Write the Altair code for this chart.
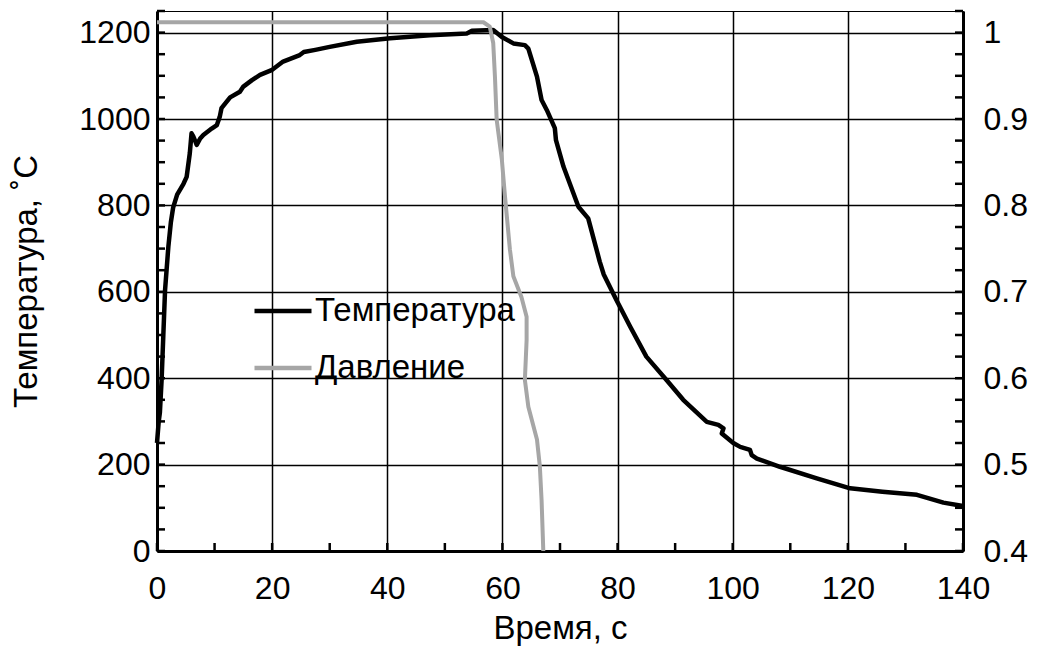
import altair as alt
import pandas as pd

# ---- data ----
time_T = [0, 0.3, 0.5, 0.8, 1.1, 1.4, 1.97, 2.4, 2.8, 3.5, 4.6, 5.15, 5.7, 6.0, 6.3, 6.9, 7.5,
          8.05, 9.5, 10.4, 10.9, 11.2, 12.7, 14.4, 15.0, 16.5, 17.9, 19.9, 21.9, 24.8, 25.5,
          27.5, 30.0, 34.7, 40.5, 47.4, 53.8, 54.7, 58.4, 59.9, 61.9, 63.9, 64.5, 66.0, 66.8,
          67.7, 69.1, 69.3, 70.6, 73.2, 74.9, 76.9, 77.6, 79.8, 82.2, 85.0, 88.5, 91.4, 95.5,
          97.5, 98.4, 98.1, 100.1, 101.3, 103.0, 103.3, 104.2, 108.2, 114.6, 120.4, 126.0,
          132.0, 136.6, 140.0]
temp = [250, 300, 320, 396, 500, 604, 704, 760, 795, 825, 850, 866, 921, 967, 960, 940, 955,
        963, 978, 986, 1005, 1025, 1050, 1063, 1075, 1090, 1102, 1113, 1133, 1148, 1155,
        1160, 1167, 1179, 1187, 1194, 1198, 1204, 1206, 1190, 1175, 1171, 1163, 1098, 1044,
        1021, 979, 951, 890, 797, 770, 670, 640, 581, 519, 450, 396, 350, 299,
        292, 284, 272, 250, 241, 234, 222, 214, 195, 168, 145, 137,
        130, 112, 104]

time_P = [0, 56.0, 56.7, 57.8, 58.4, 58.7, 59.0, 59.9, 60.45, 61.3, 61.9, 63.3, 64.2, 64.2,
          63.9, 64.5, 66.0, 66.5, 66.8, 67.1]
pres = [1.012, 1.012, 1.012, 1.007, 0.988, 0.949, 0.899, 0.853, 0.810, 0.749, 0.718, 0.694,
        0.671, 0.644, 0.598, 0.567, 0.529, 0.498, 0.459, 0.400]

series_names = ["Температура", "Давление"]
series_colors = ["#000000", "#a6a6a6"]

x_ticks = [0, 20, 40, 60, 80, 100, 120, 140]
x_minor = [0, 10, 20, 30, 40, 50, 60, 70, 80, 90, 100, 110, 120, 130, 140]
T_ticks = [0, 200, 400, 600, 800, 1000, 1200]
T_minor = list(range(0, 1251, 50))
P_ticks = [0.4, 0.5, 0.6, 0.7, 0.8, 0.9, 1.0]
P_minor = [round(0.4 + 0.025 * i, 3) for i in range(26)]

FONT = "Liberation Sans"
W, H = 806, 540
LBL = 32
TTL = 33

dfT = pd.DataFrame({"t": time_T, "T": temp, "series": series_names[0],
                    "i": list(range(len(time_T)))})
dfP = pd.DataFrame({"t": time_P, "P": pres, "series": series_names[1],
                    "i": list(range(len(time_P)))})
dfTm = pd.DataFrame({"T": T_minor})
dfPm = pd.DataFrame({"P": P_minor})
dfXm = pd.DataFrame({"t": x_minor})

x_scale = alt.Scale(domain=[0, 140], nice=False, zero=False)
T_scale = alt.Scale(domain=[0, 1250], nice=False)
P_scale = alt.Scale(domain=[0.4, 1.025], nice=False, zero=False)
color_scale = alt.Scale(domain=series_names, range=series_colors)

common_axis = dict(domainColor="black", domainWidth=3, ticks=True, tickSize=0,
                   labelFontSize=LBL, labelFont=FONT, labelColor="black",
                   labelFlush=False, labelOverlap=False,
                   titleFontSize=TTL, titleFont=FONT, titleFontWeight="normal",
                   titleColor="black")

x_axis = alt.Axis(values=x_ticks, grid=True, gridColor="black", gridWidth=1.5,
                  gridOpacity=1, labelPadding=22, format="d", title="Время, с",
                  titlePadding=8, **common_axis)
T_axis = alt.Axis(values=T_ticks, grid=True, gridColor="black", gridWidth=1.5,
                  gridOpacity=1, labelPadding=7, format="d", title="Температура, ˚С",
                  titlePadding=35, **common_axis)
P_axis = alt.Axis(orient="right", values=P_ticks, grid=False, labelPadding=20,
                  format="~g", title=None, **{k: v for k, v in common_axis.items()
                                               if not k.startswith("title")})


def X():
    return alt.X("t:Q", scale=x_scale, axis=x_axis)


legend = alt.Legend(orient="none", legendX=95, legendY=269, symbolType="stroke",
                    symbolSize=3249, symbolStrokeWidth=4.5, labelFontSize=TTL,
                    labelFont=FONT, labelColor="black", labelOffset=1, rowPadding=9,
                    labelLimit=500, title=None, padding=0)
color = alt.Color("series:N", scale=color_scale, legend=legend)

temp_line = alt.Chart(dfT).mark_line(strokeWidth=4.5, strokeJoin="round").encode(
    x=X(), y=alt.Y("T:Q", scale=T_scale, axis=T_axis), color=color, order="i:Q")
left_ticks = alt.Chart(dfTm).mark_rule(color="black", strokeWidth=2.5).encode(
    y=alt.Y("T:Q", scale=T_scale, axis=T_axis), x=alt.value(0), x2=alt.value(8))
bottom_ticks = alt.Chart(dfXm).mark_rule(color="black", strokeWidth=2.5).encode(
    x=X(), y=alt.value(H), y2=alt.value(H - 8))

pres_line = alt.Chart(dfP).mark_line(strokeWidth=4, strokeJoin="round").encode(
    x=X(), y=alt.Y("P:Q", scale=P_scale, axis=P_axis), color=color, order="i:Q")
right_ticks = alt.Chart(dfPm).mark_rule(color="black", strokeWidth=2.5).encode(
    y=alt.Y("P:Q", scale=P_scale, axis=P_axis), x=alt.value(W), x2=alt.value(W - 8))

left_group = alt.layer(temp_line, left_ticks, bottom_ticks)
right_group = alt.layer(pres_line, right_ticks)

chart = alt.layer(left_group, right_group).resolve_scale(y="independent").properties(
    width=W, height=H,
    autosize=alt.AutoSizeParams(type="none"),
    padding={"left": 149, "top": 3, "right": 72, "bottom": 96},
    background="white",
).configure_view(stroke="black", strokeWidth=1)

chart.save("out.html", embed_options={"renderer": "svg", "actions": False})
